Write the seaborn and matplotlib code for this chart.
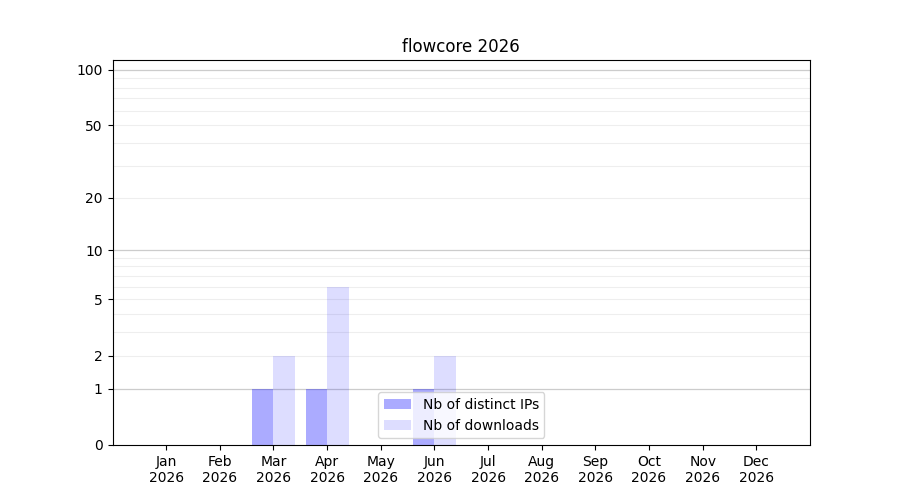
import numpy as np
import pandas as pd
import seaborn as sns
from matplotlib import pyplot as plt

months = ["Jan", "Feb", "Mar", "Apr", "May", "Jun",
          "Jul", "Aug", "Sep", "Oct", "Nov", "Dec"]
year = 2026
distinct_ips = [0, 0, 1, 1, 0, 1, 0, 0, 0, 0, 0, 0]
downloads = [0, 0, 2, 6, 0, 2, 0, 0, 0, 0, 0, 0]
series_names = ["Nb of distinct IPs", "Nb of downloads"]
series_alpha = [0.33, 0.135]
ytick_values = [0, 1, 2, 5, 10, 20, 50, 100]

labels = [f"{m}\n{year}" for m in months]
df = pd.DataFrame({
    "month": labels * 2,
    "value": distinct_ips + downloads,
    "series": [series_names[0]] * 12 + [series_names[1]] * 12,
})

fig, ax = plt.subplots(figsize=(9, 5), dpi=100)

# log(x + 1) scale so zero months still sit on the axis
ax.set_yscale("function", functions=(lambda v: np.log10(np.maximum(v, 0) + 1),
                                     lambda v: 10 ** v - 1))

sns.barplot(data=df, x="month", y="value", hue="series",
            palette=["blue", "blue"], saturation=1, linewidth=0,
            ax=ax, zorder=2, legend=False)

# translucent blue bars, grid shows through
for cont, a in zip(ax.containers, series_alpha):
    for bar in cont:
        bar.set_alpha(a)

# grid: darker at decades, lighter in between
for d in [1, 10, 100]:
    ax.axhline(d, color="#cccccc", linewidth=0.9, zorder=0)
for d in [1, 10]:
    for k in range(2, 10):
        ax.axhline(d * k, color="#eeeeee", linewidth=0.8, zorder=0)

ax.set_ylim(0, 113)
ax.set_xlim(-1, 12)
ax.set_yticks(ytick_values)
ax.set_yticklabels([str(v) for v in ytick_values])
ax.minorticks_off()
ax.set_xlabel("")
ax.set_ylabel("")
ax.set_title(f"flowcore {year}", fontsize=12)
ax.legend([c[0] for c in ax.containers], series_names, loc="lower center")

plt.savefig("out.png", dpi=100)
